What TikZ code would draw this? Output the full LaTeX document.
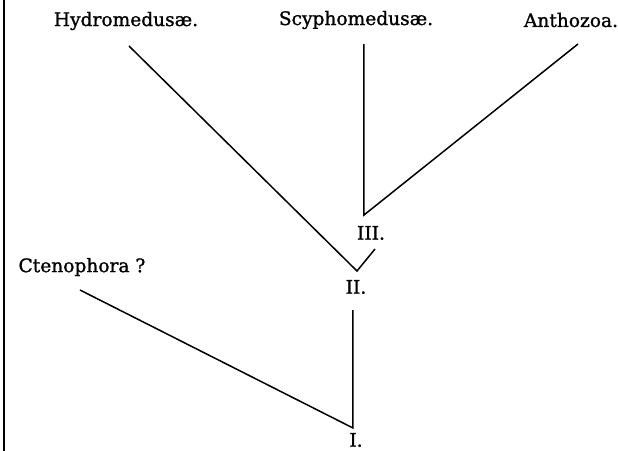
\documentclass[tikz,border=0pt]{standalone}
\usepackage{fontspec}
\setmainfont{DejaVu Serif}
\newfontfamily\labfont[FakeBold=1.2]{DejaVu Serif}
\begin{document}
\begin{tikzpicture}[x=0.5pt,y=-0.5pt,
  lab/.style={inner sep=0pt,font=\labfont\fontsize{9.3}{11}\selectfont},
  branch/.style={line width=0.75pt}]
\useasboundingbox (0,0) rectangle (618,451);
\draw[line width=1pt] (4,0) -- (4,451);
% labels
\node[lab] (hyd) at (126,21) {Hydromedusæ.};
\node[lab] (scy) at (356,20) {Scyphomedusæ.};
\node[lab] (ant) at (571,20) {Anthozoa.};
\node[lab] (cte) at (82,267) {Ctenophora ?};
\node[lab] (n3) at (371,233) {III.};
\node[lab] (n2) at (356,287) {II.};
\node[lab] (n1) at (356,440) {I.};
% branch points
\coordinate (hydE) at (129,46);
\coordinate (scyE) at (364,44);
\coordinate (antE) at (578,44);
\coordinate (v3) at (364,215);
\coordinate (v2) at (357,271);
\coordinate (v2b) at (375,249);
\coordinate (ctE) at (80,290);
\coordinate (v1) at (353,428);
\coordinate (v1t) at (353,310);
% lines
\draw[branch] (hydE) -- (v2) -- (v2b);
\draw[branch] (scyE) -- (v3) -- (antE);
\draw[branch] (ctE) -- (v1) -- (v1t);
\end{tikzpicture}
\end{document}
